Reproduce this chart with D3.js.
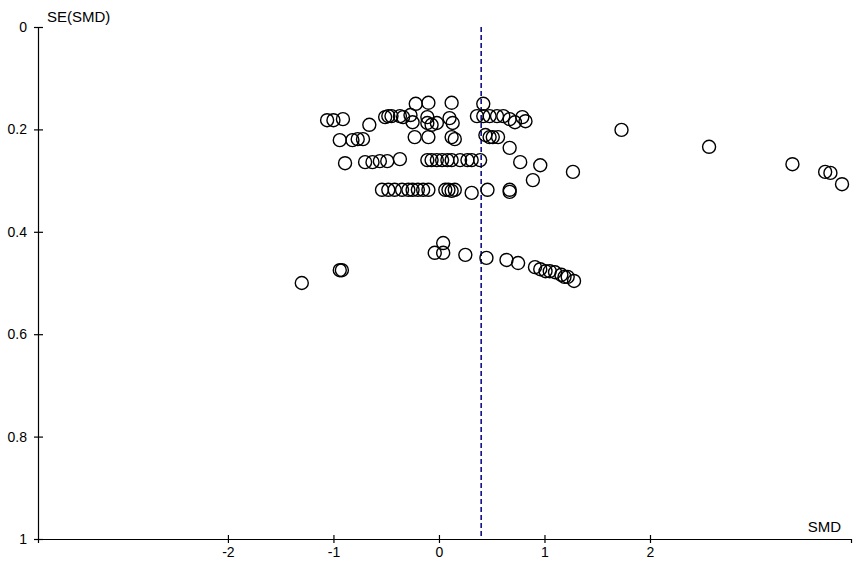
<!DOCTYPE html>
<html>
<head>
<meta charset="utf-8">
<script src="https://cdn.jsdelivr.net/npm/d3@7"></script>
<style>
html,body{margin:0;padding:0;background:#fff;}
svg{display:block;}
text{font-family:"Liberation Sans",Arial,sans-serif;fill:#000;}
</style>
</head>
<body>
<svg id="chart" width="855" height="564"></svg>
<script>
// Study effect sizes (SMD) and their standard errors
const smd = [
  -0.22,-0.10,0.12,0.42,
  -1.06,-1.00,-0.91,-0.66,
  -0.51,-0.48,-0.45,-0.37,-0.34,-0.27,
  -0.25,-0.11,-0.07,-0.02,-0.11,
  0.10,0.13,
  0.36,0.42,0.48,0.55,0.61,0.67,0.72,0.79,0.82,
  -0.94,-0.82,-0.77,-0.72,
  -0.23,-0.10,0.12,0.15,
  0.44,0.48,0.51,0.56,0.67,
  -0.89,-0.70,-0.63,-0.56,-0.49,-0.37,
  -0.11,-0.07,-0.02,0.03,0.08,0.12,0.20,0.27,0.31,0.39,
  0.77,0.96,0.89,1.27,
  -0.54,-0.48,-0.42,-0.35,-0.29,-0.25,-0.20,-0.15,-0.10,
  0.06,0.09,0.12,0.15,
  0.31,0.46,0.67,0.67,
  0.04,-0.04,0.04,0.25,0.45,0.64,0.75,
  0.91,0.96,1.01,1.05,1.10,1.16,1.19,1.22,1.28,
  -1.30,-0.94,-0.92,
  1.73,2.56,3.35,3.66,3.71,3.82
];
const se = [
  0.150,0.148,0.148,0.150,
  0.182,0.182,0.180,0.191,
  0.176,0.174,0.174,0.174,0.176,0.172,
  0.186,0.1875,0.191,0.1875,0.176,
  0.178,0.1875,
  0.174,0.174,0.174,0.174,0.174,0.180,0.186,0.176,0.184,
  0.221,0.221,0.219,0.219,
  0.215,0.215,0.215,0.219,
  0.211,0.215,0.215,0.215,0.236,
  0.266,0.264,0.264,0.262,0.262,0.258,
  0.260,0.260,0.260,0.260,0.260,0.260,0.260,0.260,0.260,0.260,
  0.264,0.270,0.299,0.283,
  0.318,0.318,0.318,0.318,0.318,0.318,0.318,0.318,0.318,
  0.318,0.318,0.320,0.318,
  0.324,0.318,0.318,0.322,
  0.422,0.441,0.441,0.445,0.451,0.455,0.461,
  0.469,0.473,0.477,0.477,0.479,0.484,0.488,0.488,0.496,
  0.500,0.475,0.475,
  0.201,0.234,0.268,0.283,0.285,0.307
];
const pooledEstimate = [0.40];
const xTicks = [-2,-1,0,1,2];
const xTickLabels = ["-2","-1","0","1","2"];
const yTicks = [0,0.2,0.4,0.6,0.8,1];
const yTickLabels = ["0","0.2","0.4","0.6","0.8","1"];
const xTitle = "SMD";
const yTitle = "SE(SMD)";

const svg = d3.select("#chart");
const x = d3.scaleLinear().domain([-3.8, 3.905]).range([38, 851]);
const y = d3.scaleLinear().domain([0, 1]).range([27, 539]);

// y axis
const yAxis = svg.append("g")
  .attr("transform", `translate(${x.range()[0]},0)`)
  .call(d3.axisLeft(y).tickValues(yTicks).tickSizeOuter(0).tickSize(4).tickPadding(7)
        .tickFormat((d,i) => yTickLabels[i]));
yAxis.select(".domain").attr("stroke", "#000").attr("stroke-width", 1.2);
yAxis.selectAll(".tick line").attr("x1", 5).attr("stroke", "#000").attr("stroke-width", 1.2);
yAxis.selectAll(".tick text").attr("font-size", 14).attr("fill", "#000");

// x axis
const xAxis = svg.append("g")
  .attr("transform", `translate(0,${y(1)})`)
  .call(d3.axisBottom(x).tickValues(xTicks).tickSizeOuter(0).tickSize(4).tickPadding(4)
        .tickFormat((d,i) => xTickLabels[i]));
xAxis.select(".domain").attr("stroke", "#000").attr("stroke-width", 1.2);
xAxis.selectAll(".tick line").attr("y1", -4).attr("stroke", "#000").attr("stroke-width", 1.2);
xAxis.selectAll(".tick text").attr("font-size", 14).attr("fill", "#000");

// axis titles
svg.append("text").attr("x", 47).attr("y", 22).attr("font-size", 15).text(yTitle);
svg.append("text").attr("x", 841).attr("y", 532).attr("text-anchor", "end").attr("font-size", 15).text(xTitle);

// pooled estimate line
svg.selectAll("line.pooled").data(pooledEstimate).enter().append("line")
  .attr("class", "pooled")
  .attr("x1", d => x(d)).attr("x2", d => x(d))
  .attr("y1", y(0)).attr("y2", y(1))
  .attr("stroke", "#000080").attr("stroke-width", 1.5)
  .attr("stroke-dasharray", "5,3");

// study points
const pts = smd.map((d, i) => ({smd: d, se: se[i]}));
svg.append("g").selectAll("circle").data(pts).enter().append("circle")
  .attr("cx", d => x(d.smd)).attr("cy", d => y(d.se))
  .attr("r", 6.5)
  .attr("fill", "none").attr("stroke", "#000").attr("stroke-width", 1.4);
</script>
</body>
</html>
